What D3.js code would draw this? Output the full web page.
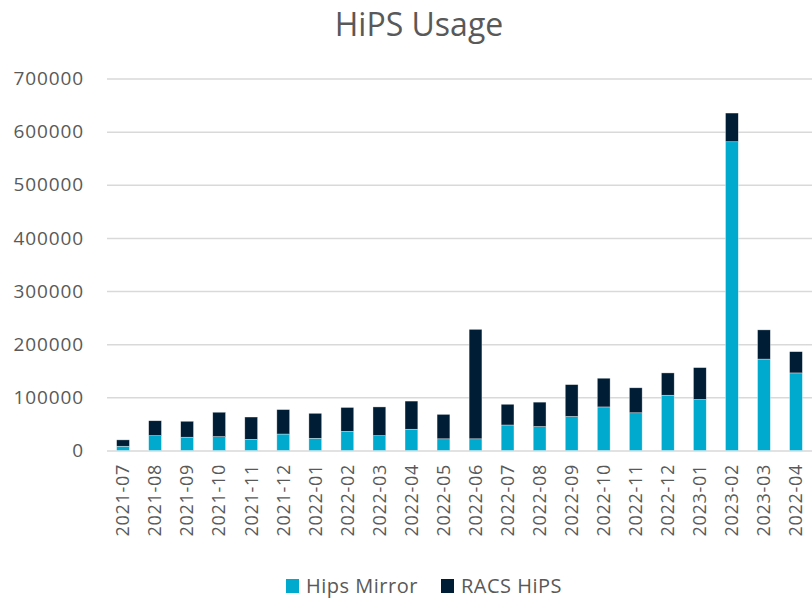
<!DOCTYPE html>
<html>
<head>
<meta charset="utf-8">
<script src="https://cdn.jsdelivr.net/npm/d3@7"></script>
<style>
  body { margin: 0; background: #fff; }
  text { font-family: "Open Sans", sans-serif; fill: #595959; }
</style>
</head>
<body>
<div id="chart"></div>
<script>
// Month labels (last one is labelled 2022-04 in the original)
var categories = ["2021-07", "2021-08", "2021-09", "2021-10", "2021-11", "2021-12",
    "2022-01", "2022-02", "2022-03", "2022-04", "2022-05", "2022-06",
    "2022-07", "2022-08", "2022-09", "2022-10", "2022-11", "2022-12",
    "2023-01", "2023-02", "2023-03", "2022-04"];

// Series values
var hipsMirror = [8000, 28000, 25000, 26000, 21000, 31000, 23000, 36000, 28000, 40000, 22000,
    22000, 48000, 45000, 64000, 82000, 71000, 104000, 96000, 581000, 172000, 146000];
var racsHips = [12000, 28000, 30000, 46000, 42000, 46000, 47000, 45000, 54000, 53000, 46000,
    206000, 39000, 46000, 60000, 54000, 47000, 42000, 60000, 54000, 55000, 40000];

var yTicks = [0, 100000, 200000, 300000, 400000, 500000, 600000, 700000];

var seriesNames = ["Hips Mirror", "RACS HiPS"];
var colors = ["#00A9CE", "#001D36"];

var svgWidth = 812, svgHeight = 598;

var svg = d3.select("#chart")
    .append("svg")
    .attr("width", svgWidth)
    .attr("height", svgHeight);

// Build rows for stacking
var rows = categories.map(function(c, i) {
    return { idx: i, label: c, mirror: hipsMirror[i], racs: racsHips[i] };
});
var stacked = d3.stack().keys(["mirror", "racs"])(rows);

// Scales
var xScale = d3.scaleBand()
    .domain(d3.range(categories.length))
    .range([107, 812])
    .paddingInner(0.6)
    .paddingOuter(0.3);

var yScale = d3.scaleLinear()
    .domain([0, 700000])
    .range([450.5, 78.5]);

// Title
svg.append("text")
    .attr("x", 419)
    .attr("y", 36)
    .attr("text-anchor", "middle")
    .style("font-size", "32px")
    .text("HiPS Usage");

// Gridlines + y labels
var yAxis = d3.axisLeft(yScale)
    .tickValues(yTicks)
    .tickSize(-(812 - 107))
    .tickPadding(23)
    .tickFormat(d3.format("d"));

var yg = svg.append("g")
    .attr("transform", "translate(107,0)")
    .call(yAxis);
yg.select(".domain").remove();
yg.selectAll(".tick line").attr("stroke", "#d9d9d9").attr("stroke-width", 1.5);
yg.selectAll(".tick text")
    .style("font-size", "19px")
    .style("letter-spacing", "0.9px")
    .style("fill", "#595959");

// Stacked bars
svg.selectAll("g.series")
    .data(stacked)
    .enter()
    .append("g")
    .attr("class", "series")
    .attr("fill", function(d, i) { return colors[i]; })
    .selectAll("rect")
    .data(function(d) { return d; })
    .enter()
    .append("rect")
    .attr("x", function(d) { return xScale(d.data.idx); })
    .attr("width", xScale.bandwidth())
    .attr("y", function(d) { return yScale(d[1]); })
    .attr("height", function(d) { return yScale(d[0]) - yScale(d[1]); })
    .attr("stroke", "#ffffff")
    .attr("stroke-opacity", 0.6)
    .attr("stroke-width", 0.6);

// X axis labels, rotated
var xAxis = d3.axisBottom(xScale)
    .tickSize(0)
    .tickFormat(function(i) { return categories[i]; });

var xg = svg.append("g")
    .attr("transform", "translate(0,451)")
    .call(xAxis);
xg.select(".domain").remove();
xg.selectAll(".tick text")
    .attr("transform", "rotate(-90)")
    .attr("text-anchor", "end")
    .attr("x", -13)
    .attr("y", 0)
    .attr("dy", "0.35em")
    .style("font-size", "18px")
    .style("letter-spacing", "0.7px")
    .style("fill", "#595959");

// Legend
var legendX = [286, 441];
var legend = svg.selectAll("g.legend")
    .data(seriesNames)
    .enter()
    .append("g")
    .attr("class", "legend")
    .attr("transform", function(d, i) { return "translate(" + legendX[i] + ",579)"; });

legend.append("rect")
    .attr("width", 13)
    .attr("height", 14)
    .attr("fill", function(d, i) { return colors[i]; });

legend.append("text")
    .attr("x", 20)
    .attr("y", 14)
    .style("font-size", "20px")
    .style("letter-spacing", "0.5px")
    .text(function(d) { return d; });
</script>
</body>
</html>
